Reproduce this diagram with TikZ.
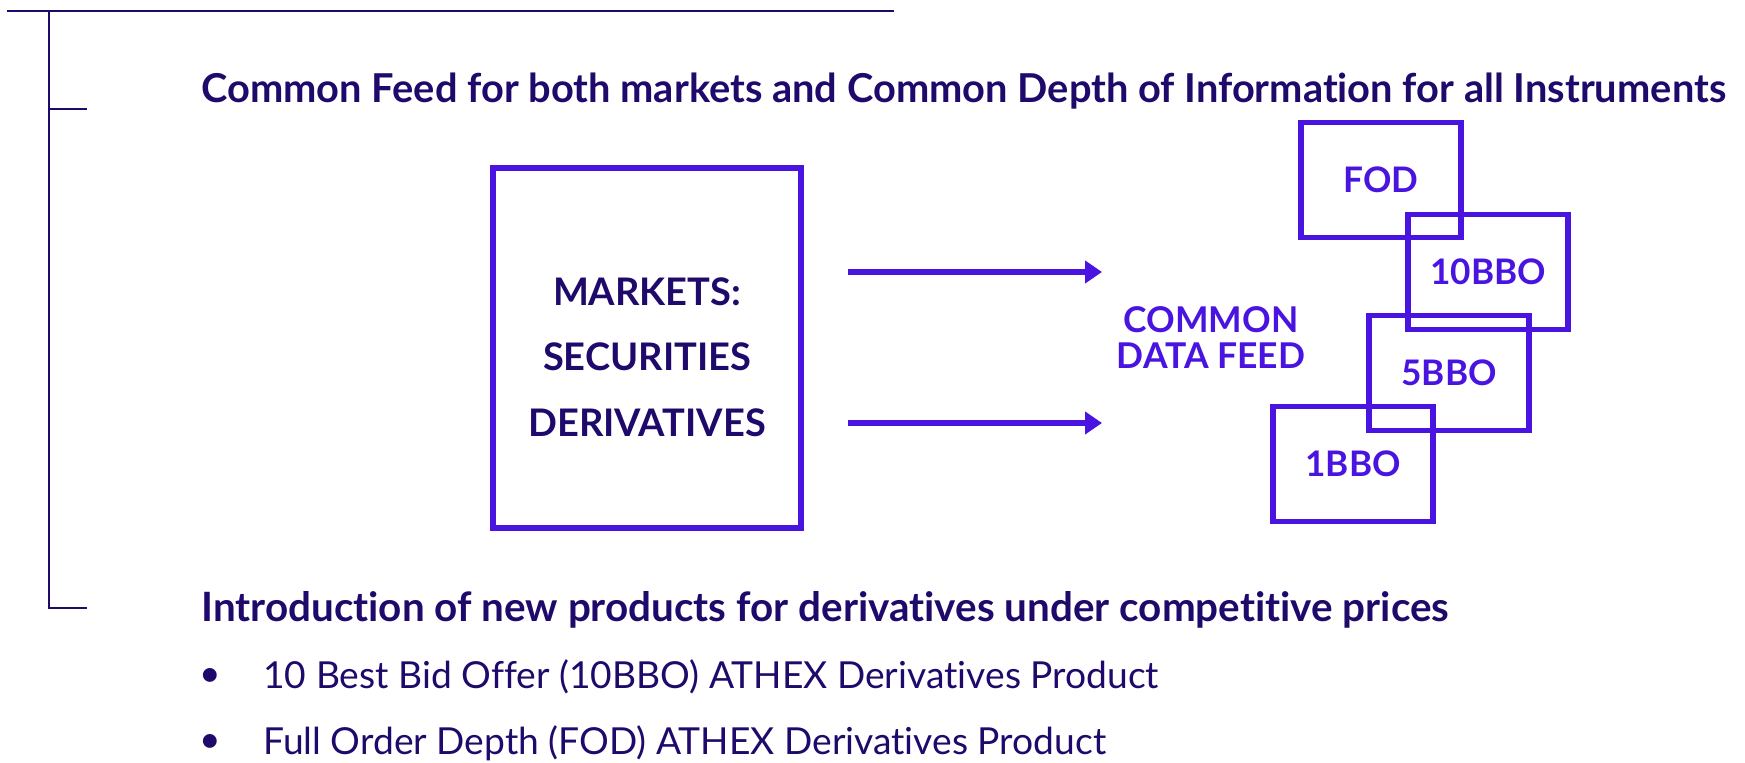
\documentclass[tikz,border=0pt]{standalone}
\usepackage{fontspec}
\setmainfont{Lato}[Ligatures=NoCommon]
\usetikzlibrary{arrows.meta,positioning}
\definecolor{athexnavy}{HTML}{1F0A6C}
\definecolor{athexpurple}{HTML}{4A14E0}
\tikzset{
  level/.style={draw=athexnavy, line width=1.3pt},
  heading/.style={anchor=west, inner sep=0pt, text=athexnavy, font=\fontsize{20.2}{24}\selectfont\bfseries},
  item/.style={anchor=west, inner sep=0pt, text=athexnavy, font=\fontsize{18.6}{22}\selectfont},
  feedarrow/.style={draw=athexpurple, line width=3.4pt, -{Triangle[length=8.5pt,width=11pt]}},
  bbobox/.style={draw=athexpurple, line width=2.9pt, minimum width=80pt, minimum height=57.5pt,
    text=athexpurple, font=\fontsize{17.6}{21}\selectfont\bfseries},
}
\begin{document}
\begin{tikzpicture}[x=0.5pt,y=-0.5pt]
  \useasboundingbox (0,0) rectangle (1745,763);
  \coordinate (top) at (7,11);
  \coordinate (topend) at (894,11);
  \coordinate (root) at (49,11);
  \coordinate (lev1) at (49,109);
  \coordinate (lev2) at (49,608);
  \draw[level] (top) -- (topend);
  \draw[level] (root) -- (lev2) -- ++(38,0);
  \draw[level] (lev1) -- ++(38,0);

  \node[heading, font=\fontsize{19.9}{24}\selectfont\bfseries] (common) at (201,91) {Common Feed for both markets and Common Depth of Information for all Instruments};
  \node[draw=athexpurple, line width=2.9pt, minimum width=154pt, minimum height=180pt] (mkt) at (647,348) {};
  \node[align=center, text=athexnavy, font=\fontsize{19}{32.8}\selectfont\bfseries] (mktlabel) at ([yshift=-4.5pt]mkt.center)
    {MARKETS:\\SECURITIES\\DERIVATIVES};
  \node[align=center, text=athexpurple, font=\fontsize{17.75}{18}\selectfont\bfseries] (feed) at (1211,338)
    {COMMON\\DATA FEED};

  \node[bbobox] (fod) at (1381,180) {FOD};
  \node[bbobox] (bbo10) at (1488,272) {10BBO};
  \node[bbobox] (bbo5) at (1449,373) {5BBO};
  \node[bbobox] (bbo1) at (1353,464) {1BBO};

  \coordinate (tip1) at (1102,272);
  \coordinate (tip2) at (1102,423);
  \draw[feedarrow] ([xshift=22pt]mkt.east |- tip1) -- (tip1);
  \draw[feedarrow] ([xshift=22pt]mkt.east |- tip2) -- (tip2);

  \node[heading] (intro) at (201,610) {Introduction of new products for derivatives under competitive prices};
  \node[item] (dot1) at (199,677) {\textbullet};
  \node[item] (best) at (263,677) {10 Best Bid Offer (10BBO) ATHEX Derivatives Product};
  \node[item] (dot2) at (199,743) {\textbullet};
  \node[item] (full) at (263,743) {Full Order Depth (FOD) ATHEX Derivatives Product};
\end{tikzpicture}
\end{document}
